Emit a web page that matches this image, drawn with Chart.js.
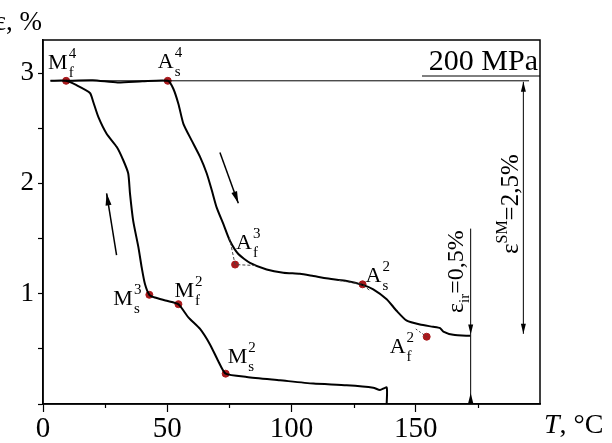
<!DOCTYPE html>
<html>
<head>
<meta charset="utf-8">
<script src="https://cdn.jsdelivr.net/npm/chart.js@4.4.1/dist/chart.umd.min.js"></script>
<style>
  html, body { margin: 0; padding: 0; background: #fff; }
</style>
</head>
<body>
<canvas id="chart" width="612" height="443"></canvas>
<script>
/* ── Data ──────────────────────────────────────────────────────── */

// cooling branch (from the end at 138 °C back up to the top plateau)
const coolT = [138.3, 138.3, 135.6, 132.9, 122.2, 108.8, 95.4, 82.0, 73.5, 70.5, 67.2, 63.2, 58.5, 54.5, 49.8, 45.0, 42.8,
               41.0, 39.7, 38.4, 36.3, 35.0, 34.3, 32.3, 29.7, 25.6, 22.3, 20.2, 18.9, 13.5, 9.3, 3.0];
const coolE = [0.0, 0.15, 0.127, 0.148, 0.17, 0.185, 0.215, 0.245, 0.275, 0.39, 0.54, 0.68, 0.785, 0.905, 0.936, 0.965, 0.99,
               1.09, 1.24, 1.42, 1.66, 1.91, 2.09, 2.21, 2.33, 2.45, 2.60, 2.74, 2.82, 2.89, 2.93, 2.93];

// heating branch
const heatT = [9.3, 20, 30, 40, 50.2, 52.4, 54.5, 56.5, 59.8, 63.2, 65.9, 67.9, 69.9, 72.6, 75.2, 78.6, 83.3, 90, 96.7,
               103.4, 108.8, 116.8, 122.2, 128.6, 132.9, 138.3, 142.3, 146.4, 151.7, 157, 159.8, 161.1, 165.1, 172];
const heatE = [2.93, 2.935, 2.915, 2.925, 2.93, 2.86, 2.72, 2.54, 2.39, 2.24, 2.09, 1.94, 1.78, 1.63, 1.48, 1.36, 1.28, 1.22, 1.19,
               1.18, 1.16, 1.13, 1.115, 1.08, 1.04, 0.95, 0.845, 0.755, 0.72, 0.70, 0.688, 0.657, 0.627, 0.618];

// thin reference line at the top strain level
const refT = [3, 195.6];
const refE = [2.93, 2.93];

// characteristic temperatures (red dots)
const critT    = [9.3, 50.2, 77.3, 128.6, 154.4, 42.8, 54.5, 73.5];
const critE    = [2.93, 2.93, 1.264, 1.085, 0.61, 0.99, 0.905, 0.275];
const critMain = ['M', 'A', 'A', 'A', 'A', 'M', 'M', 'M'];
const critSup  = ['4', '4', '3', '2', '2', '3', '2', '2'];
const critSub  = ['f', 's', 'f', 's', 'f', 's', 'f', 's'];

// tangent construction lines
const tanAf3T  = [75.0, 77.3, 86.0];
const tanAf3E  = [1.51, 1.264, 1.255];
const tanAs2T  = [119.0, 128.6, 131.4];
const tanAs2E  = [1.12, 1.085, 1.03];
const tanAf2T  = [150.0, 154.4];
const tanAf2E  = [0.68, 0.61];

// direction arrows [from, to]
const arrowFromT = [29.6, 71.2];
const arrowFromE = [1.35, 2.28];
const arrowToT   = [25.6, 78.6];
const arrowToE   = [1.91, 1.82];

// strain dimension lines
const smT = 193.3, smTop = 2.93, smBottom = 0.636;
const irT = 172.1, irTop = 1.59, irDownTip = 0.63, irUpTip = 0.1;

const xTicks = [0, 50, 100, 150];
const xMinorTicks = [25, 75, 125, 175];
const yTicks = [1, 2, 3];
const yAllTicks = [0, 0.5, 1, 1.5, 2, 2.5, 3];

/* ── Helpers ──────────────────────────────────────────────────── */

const SERIF = '"Liberation Serif", "DejaVu Serif", serif';
const pts = (xs, ys) => xs.map((x, i) => ({ x, y: ys[i] }));

function arrowHead(ctx, x1, y1, x2, y2, len = 10, half = 3) {
  const a = Math.atan2(y2 - y1, x2 - x1);
  ctx.beginPath();
  ctx.moveTo(x2, y2);
  ctx.lineTo(x2 - len * Math.cos(a) + half * Math.sin(a), y2 - len * Math.sin(a) - half * Math.cos(a));
  ctx.lineTo(x2 - len * Math.cos(a) - half * Math.sin(a), y2 - len * Math.sin(a) + half * Math.cos(a));
  ctx.closePath();
  ctx.fill();
}

// label offsets from each dot (pixels)
const labelOffset = [[-18, -12], [-10, -13], [1, -16], [3, -2], [-37, 16], [-36, 10], [-4, -7], [2, -11]];

const decorPlugin = {
  id: 'decor',
  afterDraw(chart) {
    const { ctx, chartArea: ca, scales: { x, y } } = chart;
    ctx.save();

    // full frame
    ctx.strokeStyle = '#000';
    ctx.lineWidth = 1.5;
    ctx.strokeRect(ca.left, ca.top, ca.right - ca.left, ca.bottom - ca.top);

    // short minor ticks on the T axis
    ctx.lineWidth = 1.2;
    xMinorTicks.forEach(v => {
      const px = Math.round(x.getPixelForValue(v)) + 0.5;
      ctx.beginPath(); ctx.moveTo(px, ca.bottom); ctx.lineTo(px, ca.bottom + 4); ctx.stroke();
    });

    // direction arrows
    ctx.fillStyle = '#000';
    ctx.lineWidth = 1.5;
    arrowFromT.forEach((t, i) => {
      const x1 = x.getPixelForValue(t), y1 = y.getPixelForValue(arrowFromE[i]);
      const x2 = x.getPixelForValue(arrowToT[i]), y2 = y.getPixelForValue(arrowToE[i]);
      ctx.beginPath(); ctx.moveTo(x1, y1); ctx.lineTo(x2, y2); ctx.stroke();
      arrowHead(ctx, x1, y1, x2, y2, 12, 3);
    });

    // epsilon SM dimension
    ctx.lineWidth = 1;
    const sx = x.getPixelForValue(smT);
    const sTop = y.getPixelForValue(smTop), sBot = y.getPixelForValue(smBottom);
    ctx.beginPath(); ctx.moveTo(sx, sTop + 1); ctx.lineTo(sx, sBot); ctx.stroke();
    arrowHead(ctx, sx, sBot, sx, sTop + 1, 10, 2.5);
    arrowHead(ctx, sx, sTop, sx, sBot, 10, 2.5);

    // epsilon ir dimension
    const ix = x.getPixelForValue(irT);
    ctx.beginPath(); ctx.moveTo(ix, y.getPixelForValue(irTop)); ctx.lineTo(ix, ca.bottom); ctx.stroke();
    arrowHead(ctx, ix, y.getPixelForValue(irTop), ix, y.getPixelForValue(irDownTip), 10, 2.5);
    arrowHead(ctx, ix, ca.bottom, ix, y.getPixelForValue(irUpTip), 10, 2.5);

    // underline of the stress label
    ctx.beginPath(); ctx.moveTo(422, 76); ctx.lineTo(ca.right, 76); ctx.stroke();

    ctx.fillStyle = '#000';
    ctx.textBaseline = 'alphabetic';

    // dot labels
    critT.forEach((t, i) => {
      const px = x.getPixelForValue(t) + labelOffset[i][0];
      const py = y.getPixelForValue(critE[i]) + labelOffset[i][1];
      ctx.font = `22px ${SERIF}`;
      ctx.textAlign = 'left';
      ctx.fillText(critMain[i], px, py);
      const w = ctx.measureText(critMain[i]).width;
      ctx.font = `15px ${SERIF}`;
      ctx.fillText(critSup[i], px + w + 1, py - 11);
      ctx.fillText(critSub[i], px + w + 1, py + 8);
    });

    // stress label
    ctx.font = `30px ${SERIF}`;
    ctx.textAlign = 'right';
    ctx.fillText('200 MPa', ca.right - 2, 70);

    // rotated strain labels
    const rotText = (cx, cy, parts) => {
      ctx.save();
      ctx.translate(cx, cy);
      ctx.rotate(-Math.PI / 2);
      ctx.textAlign = 'left';
      let off = 0;
      parts.forEach(([txt, size, dy]) => {
        ctx.font = `${size}px ${SERIF}`;
        ctx.fillText(txt, off, dy);
        off += ctx.measureText(txt).width;
      });
      ctx.restore();
    };
    rotText(518, 254, [['ε', 25, 0], ['SM', 16, -11], ['=2,5%', 25, 0]]);
    rotText(463, 313, [['ε', 24, 0], ['ir', 15, 6], ['=0,5%', 24, 0]]);

    // axis titles
    ctx.font = `27px ${SERIF}`;
    ctx.textAlign = 'right';
    ctx.fillText('ε, %', 42, 30);
    ctx.textAlign = 'left';
    ctx.font = `italic 28px ${SERIF}`;
    ctx.fillText('T', 544, 433);
    const tw = ctx.measureText('T').width;
    ctx.font = `28px ${SERIF}`;
    ctx.fillText(', °C', 544 + tw, 433);

    ctx.restore();
  },
};

/* ── Chart ────────────────────────────────────────────────────── */

const lineDefaults = { showLine: true, pointRadius: 0, fill: false, borderColor: '#000' };

new Chart(document.getElementById('chart'), {
  type: 'scatter',
  data: {
    datasets: [
      { ...lineDefaults, data: pts(refT, refE), borderWidth: 1 },
      { ...lineDefaults, data: pts(tanAf3T, tanAf3E), borderWidth: 1, borderDash: [3, 2], borderColor: '#444' },
      { ...lineDefaults, data: pts(tanAs2T, tanAs2E), borderWidth: 1, borderDash: [3, 2], borderColor: '#444' },
      { ...lineDefaults, data: pts(tanAf2T, tanAf2E), borderWidth: 1, borderDash: [2, 2], borderColor: '#444' },
      { ...lineDefaults, data: pts(coolT, coolE), borderWidth: 2, tension: 0.2 },
      { ...lineDefaults, data: pts(heatT, heatE), borderWidth: 2, tension: 0.2 },
      {
        data: pts(critT, critE), showLine: false,
        pointRadius: 3.5, pointBackgroundColor: '#a8191c', pointBorderColor: '#a8191c',
      },
    ],
  },
  options: {
    responsive: false,
    animation: false,
    events: [],
    layout: { padding: { left: 0, right: 72, top: 40, bottom: 0 } },
    plugins: { legend: { display: false }, tooltip: { enabled: false } },
    scales: {
      x: {
        type: 'linear', min: 0, max: 200,
        afterFit: s => { s.height = 39; },
        afterBuildTicks: s => { s.ticks = xTicks.map(v => ({ value: v })); },
        ticks: {
          color: '#000', padding: 0, maxRotation: 0,
          font: { family: SERIF, size: 29 },
          callback: v => String(v),
        },
        grid: { drawOnChartArea: false, tickLength: 8, color: '#000', tickWidth: 1.2 },
        border: { color: '#000', width: 1.5 },
      },
      y: {
        type: 'linear', min: 0, max: 3.3,
        afterFit: s => { s.width = 43; },
        afterBuildTicks: s => { s.ticks = yAllTicks.map(v => ({ value: v })); },
        ticks: {
          color: '#000', padding: 4,
          font: { family: SERIF, size: 27 },
          callback: v => (yTicks.includes(v) ? String(v) : ''),
        },
        grid: { drawOnChartArea: false, tickLength: 5, color: '#000', tickWidth: 1.2 },
        border: { color: '#000', width: 1.5 },
      },
    },
  },
  plugins: [decorPlugin],
});
</script>
</body>
</html>
